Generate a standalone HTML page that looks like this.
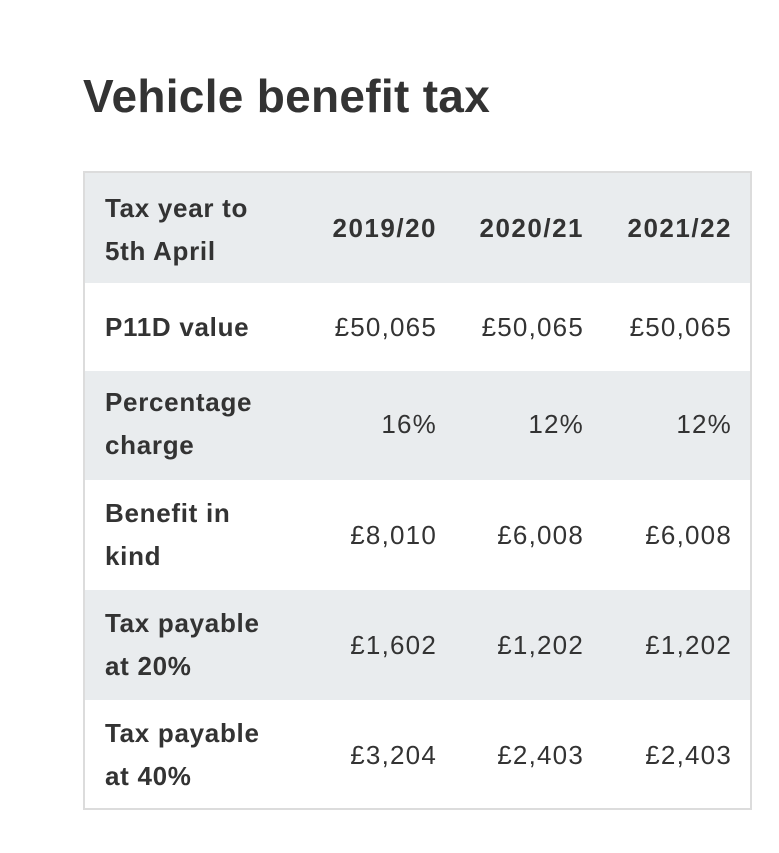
<!DOCTYPE html>
<html><head><style>
body{margin:0;width:779px;height:853px;background:#fff;font-family:"Liberation Sans",sans-serif;color:#333;position:relative;overflow:hidden}
h1{position:absolute;left:83px;top:66px;margin:0;font-size:46px;font-weight:bold;letter-spacing:0.3px;line-height:60px}
.t{position:absolute;left:83px;top:171px;width:665px;height:635px;border:2px solid #dcdcdc}
.r{position:absolute;left:0;width:665px}
.g{background:#e9ecee}
.l{position:absolute;left:20px;font-weight:bold;font-size:26px;letter-spacing:0.7px;line-height:43px}
.n{position:absolute;font-size:26px;letter-spacing:1.2px;line-height:43px;text-align:right;width:140px}
.h{font-weight:bold;letter-spacing:1.5px}
</style></head><body>
<h1>Vehicle benefit tax</h1>
<div class="t">
<div class="r g" style="top:0;height:110px"><div class="l" style="top:14px">Tax year to<br>5th April</div>
<div class="n h" style="left:212px;top:34px">2019/20</div><div class="n h" style="left:359px;top:34px">2020/21</div><div class="n h" style="left:507px;top:34px">2021/22</div></div>
<div class="r" style="top:110px;height:88px"><div class="l" style="top:23px">P11D value</div>
<div class="n" style="left:212px;top:23px">£50,065</div><div class="n" style="left:359px;top:23px">£50,065</div><div class="n" style="left:507px;top:23px">£50,065</div></div>
<div class="r g" style="top:198px;height:109px"><div class="l" style="top:10px">Percentage<br>charge</div>
<div class="n" style="left:212px;top:32px">16%</div><div class="n" style="left:359px;top:32px">12%</div><div class="n" style="left:507px;top:32px">12%</div></div>
<div class="r" style="top:307px;height:110px"><div class="l" style="top:12px">Benefit in<br>kind</div>
<div class="n" style="left:212px;top:34px">£8,010</div><div class="n" style="left:359px;top:34px">£6,008</div><div class="n" style="left:507px;top:34px">£6,008</div></div>
<div class="r g" style="top:417px;height:110px"><div class="l" style="top:12px">Tax payable<br>at 20%</div>
<div class="n" style="left:212px;top:34px">£1,602</div><div class="n" style="left:359px;top:34px">£1,202</div><div class="n" style="left:507px;top:34px">£1,202</div></div>
<div class="r" style="top:527px;height:108px"><div class="l" style="top:12px">Tax payable<br>at 40%</div>
<div class="n" style="left:212px;top:34px">£3,204</div><div class="n" style="left:359px;top:34px">£2,403</div><div class="n" style="left:507px;top:34px">£2,403</div></div>
</div>
</body></html>
